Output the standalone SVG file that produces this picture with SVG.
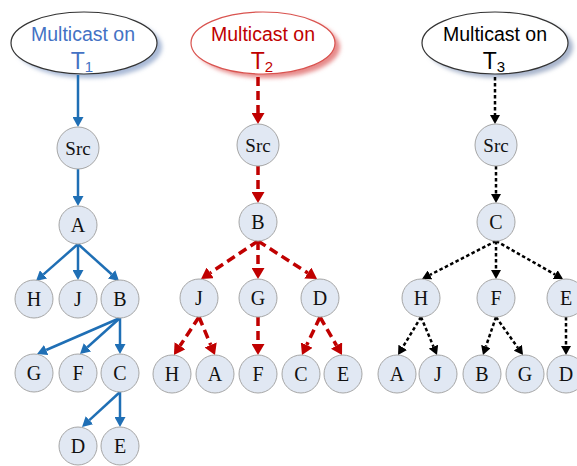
<svg xmlns="http://www.w3.org/2000/svg" width="577" height="466" viewBox="0 0 577 466">
  <style>
    .node circle { fill: #e1e8f3; stroke: #a6a6a6; stroke-width: 1; }
    .node text { font-family: "Liberation Serif", "DejaVu Serif", serif; font-size: 20px; fill: #111; text-anchor: middle; dominant-baseline: central; }
    .node.src text { font-size: 19px; }
    .title text { font-family: "Liberation Sans", Arial, sans-serif; font-size: 19.5px; text-anchor: middle; }
    .title .t { font-size: 23px; }
    .title .sub { font-size: 15px; }
    .e1 { stroke: #1f6fb5; stroke-width: 2.5; fill: none; }
    .e2 { stroke: #c00000; stroke-width: 3.5; fill: none; stroke-dasharray: 9 5; }
    .e3 { stroke: #000; stroke-width: 2.5; fill: none; stroke-dasharray: 3.5 2.5; }
  </style>
  <defs>
    <marker id="a1" markerUnits="userSpaceOnUse" markerWidth="10" markerHeight="11" refX="0" refY="5.5" orient="auto">
      <path d="M0,0 L10,5.5 L0,11 z" fill="#1f6fb5"/>
    </marker>
    <marker id="a2" markerUnits="userSpaceOnUse" markerWidth="11" markerHeight="13" refX="0" refY="6.5" orient="auto">
      <path d="M0,0 L11,6.5 L0,13 z" fill="#c00000"/>
    </marker>
    <marker id="a3" markerUnits="userSpaceOnUse" markerWidth="9" markerHeight="10" refX="0" refY="5" orient="auto">
      <path d="M0,0 L9,5 L0,10 z" fill="#000"/>
    </marker>
    <filter id="soft" x="-20%" y="-30%" width="140%" height="160%">
      <feGaussianBlur stdDeviation="2"/>
    </filter>
  </defs>

  <!-- tree headers -->
  <g id="title1" class="title">
    <ellipse cx="89" cy="47" rx="73" ry="31" fill="#a9b9d6" filter="url(#soft)"/>
    <ellipse cx="84" cy="43" rx="73" ry="31" fill="#fff" stroke="#333" stroke-width="1.2"/>
    <text x="83" y="41" fill="#4472c4">Multicast on</text>
    <text x="82" y="69" fill="#4472c4"><tspan class="t">T</tspan><tspan class="sub" dy="3">1</tspan></text>
  </g>
  <g id="title2" class="title">
    <ellipse cx="268" cy="47" rx="72" ry="31" fill="#e68a8a" filter="url(#soft)"/>
    <ellipse cx="263" cy="43" rx="72" ry="31" fill="#fff" stroke="#d9534f" stroke-width="1.2"/>
    <text x="263" y="41" fill="#c00000">Multicast on</text>
    <text x="262" y="69" fill="#c00000"><tspan class="t">T</tspan><tspan class="sub" dy="3">2</tspan></text>
  </g>
  <g id="title3" class="title">
    <ellipse cx="500" cy="47" rx="73" ry="31" fill="#a9b5cc" filter="url(#soft)"/>
    <ellipse cx="495" cy="43" rx="73" ry="31" fill="#fff" stroke="#333" stroke-width="1.2"/>
    <text x="495" y="41" fill="#000">Multicast on</text>
    <text x="494" y="69" fill="#000"><tspan class="t">T</tspan><tspan class="sub" dy="3">3</tspan></text>
  </g>

  <!-- connectors -->
  <g id="connectors">
    <g id="edges-t1" class="e1" marker-end="url(#a1)">
      <line x1="78" y1="75" x2="78" y2="117"/>
      <line x1="78" y1="169" x2="78" y2="196"/>
      <line x1="78" y1="244" x2="43.5" y2="274.4"/>
      <line x1="78" y1="244" x2="78" y2="270"/>
      <line x1="78" y1="244" x2="111.6" y2="274.3"/>
      <line x1="120" y1="318" x2="46.2" y2="350"/>
      <line x1="120" y1="318" x2="87.4" y2="347.3"/>
      <line x1="120" y1="318" x2="120" y2="344"/>
      <line x1="120" y1="392" x2="89.4" y2="420.2"/>
      <line x1="120" y1="392" x2="120" y2="417"/>
    </g>
    <g id="edges-t2" class="e2" marker-end="url(#a2)">
      <line x1="258" y1="77" x2="258" y2="113"/>
      <line x1="258" y1="166" x2="258" y2="192"/>
      <line x1="258" y1="241" x2="210.2" y2="272.9"/>
      <line x1="258" y1="241" x2="258" y2="268"/>
      <line x1="258" y1="241" x2="307.8" y2="273"/>
      <line x1="199" y1="317" x2="180" y2="345.8"/>
      <line x1="199" y1="317" x2="210.7" y2="344.9"/>
      <line x1="258" y1="317" x2="258" y2="344"/>
      <line x1="320" y1="317" x2="306.7" y2="345.1"/>
      <line x1="320" y1="317" x2="336.5" y2="345.5"/>
    </g>
    <g id="edges-t3" class="e3" marker-end="url(#a3)">
      <line x1="495" y1="77" x2="495" y2="115"/>
      <line x1="496" y1="166" x2="496" y2="194"/>
      <line x1="496" y1="241" x2="430" y2="274.9"/>
      <line x1="496" y1="241" x2="496" y2="270"/>
      <line x1="496" y1="241" x2="555.2" y2="274.6"/>
      <line x1="421" y1="317" x2="402.7" y2="347.3"/>
      <line x1="421" y1="317" x2="433.5" y2="346.7"/>
      <line x1="496" y1="317" x2="485.9" y2="346.5"/>
      <line x1="496" y1="317" x2="517.8" y2="347.7"/>
      <line x1="566" y1="317" x2="566" y2="346"/>
    </g>
  </g>

  <!-- tree 1 nodes -->
  <g id="t1-src" class="node src"><circle cx="78" cy="148" r="21"/><text x="78" y="148">Src</text></g>
  <g id="t1-A" class="node"><circle cx="78" cy="225" r="19"/><text x="78" y="225">A</text></g>
  <g id="t1-H" class="node"><circle cx="34" cy="299" r="19"/><text x="34" y="299">H</text></g>
  <g id="t1-J" class="node"><circle cx="78" cy="299" r="19"/><text x="78" y="299">J</text></g>
  <g id="t1-B" class="node"><circle cx="120" cy="299" r="19"/><text x="120" y="299">B</text></g>
  <g id="t1-G" class="node"><circle cx="34" cy="373" r="19"/><text x="34" y="373">G</text></g>
  <g id="t1-F" class="node"><circle cx="78" cy="373" r="19"/><text x="78" y="373">F</text></g>
  <g id="t1-C" class="node"><circle cx="120" cy="373" r="19"/><text x="120" y="373">C</text></g>
  <g id="t1-D" class="node"><circle cx="78" cy="446" r="19"/><text x="78" y="446">D</text></g>
  <g id="t1-E" class="node"><circle cx="120" cy="446" r="19"/><text x="120" y="446">E</text></g>

  <!-- tree 2 nodes -->
  <g id="t2-src" class="node src"><circle cx="258" cy="145" r="21"/><text x="258" y="145">Src</text></g>
  <g id="t2-B" class="node"><circle cx="258" cy="222" r="19"/><text x="258" y="222">B</text></g>
  <g id="t2-J" class="node"><circle cx="199" cy="298" r="19"/><text x="199" y="298">J</text></g>
  <g id="t2-G" class="node"><circle cx="258" cy="298" r="19"/><text x="258" y="298">G</text></g>
  <g id="t2-D" class="node"><circle cx="320" cy="298" r="19"/><text x="320" y="298">D</text></g>
  <g id="t2-H" class="node"><circle cx="172" cy="374" r="19"/><text x="172" y="374">H</text></g>
  <g id="t2-A" class="node"><circle cx="215" cy="374" r="19"/><text x="215" y="374">A</text></g>
  <g id="t2-F" class="node"><circle cx="258" cy="374" r="19"/><text x="258" y="374">F</text></g>
  <g id="t2-C" class="node"><circle cx="301" cy="374" r="19"/><text x="301" y="374">C</text></g>
  <g id="t2-E" class="node"><circle cx="343" cy="374" r="19"/><text x="343" y="374">E</text></g>

  <!-- tree 3 nodes -->
  <g id="t3-src" class="node src"><circle cx="496" cy="145" r="21"/><text x="496" y="145">Src</text></g>
  <g id="t3-C" class="node"><circle cx="496" cy="222" r="19"/><text x="496" y="222">C</text></g>
  <g id="t3-H" class="node"><circle cx="421" cy="298" r="19"/><text x="421" y="298">H</text></g>
  <g id="t3-F" class="node"><circle cx="496" cy="298" r="19"/><text x="496" y="298">F</text></g>
  <g id="t3-E" class="node"><circle cx="566" cy="298" r="19"/><text x="566" y="298">E</text></g>
  <g id="t3-A" class="node"><circle cx="397" cy="374" r="19"/><text x="397" y="374">A</text></g>
  <g id="t3-J" class="node"><circle cx="438" cy="374" r="19"/><text x="438" y="374">J</text></g>
  <g id="t3-B" class="node"><circle cx="482" cy="374" r="19"/><text x="482" y="374">B</text></g>
  <g id="t3-G" class="node"><circle cx="525" cy="374" r="19"/><text x="525" y="374">G</text></g>
  <g id="t3-D" class="node"><circle cx="566" cy="374" r="19"/><text x="566" y="374">D</text></g>
</svg>
